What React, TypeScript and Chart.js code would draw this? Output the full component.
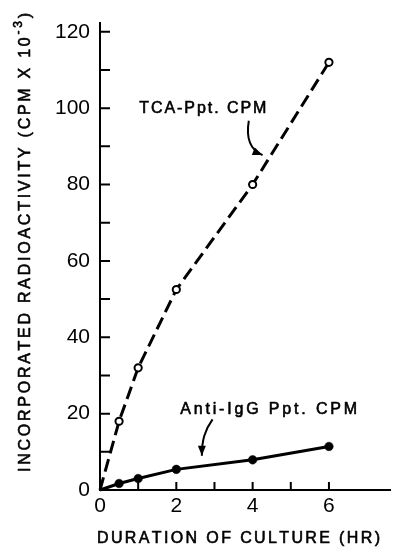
import React, { useEffect, useRef } from "react";
import { Chart, registerables } from "chart.js";

Chart.register(...registerables);

// ---- data ----
const hours = [0, 0.5, 1, 2, 4, 6];
const tcaPptCpm = [0, 18, 32, 52.5, 80, 112];
const antiIgGPptCpm = [0, 1.7, 3, 5.4, 7.9, 11.4];

const yTickValues = [0, 10, 20, 30, 40, 50, 60, 70, 80, 90, 100, 110, 120];
const yLabelValues = [0, 20, 40, 60, 80, 100, 120];
const xTickValues = [0, 1, 2, 3, 4, 5, 6];
const xLabelValues = [0, 2, 4, 6];

const xAxisTitle = "DURATION OF CULTURE (HR)";
const yAxisTitleMain = "INCORPORATED RADIOACTIVITY (CPM X 10";
const yAxisTitleSup = "-3";
const yAxisTitleEnd = ")";
const tcaLabel = "TCA-Ppt. CPM";
const antiLabel = "Anti-IgG Ppt. CPM";

const FONT = "'Liberation Sans', Arimo, Arial, sans-serif";

type Seg = { text: string; size: number; dy: number };

function drawSpaced(ctx: CanvasRenderingContext2D, segs: Seg[], x0: number, width: number, baseline: number) {
  let natural = 0;
  let n = 0;
  segs.forEach((s) => {
    ctx.font = `${s.size}px ${FONT}`;
    for (const ch of s.text) {
      natural += ctx.measureText(ch).width;
      n++;
    }
  });
  const gap = n > 1 ? (width - natural) / (n - 1) : 0;
  let x = x0;
  ctx.lineWidth = 0.6;
  ctx.lineJoin = "round";
  segs.forEach((s) => {
    ctx.font = `${s.size}px ${FONT}`;
    for (const ch of s.text) {
      ctx.fillText(ch, x, baseline + s.dy);
      ctx.strokeText(ch, x, baseline + s.dy);
      x += ctx.measureText(ch).width + gap;
    }
  });
}

function arrow(ctx: CanvasRenderingContext2D, p: number[][]) {
  ctx.beginPath();
  ctx.moveTo(p[0][0], p[0][1]);
  ctx.bezierCurveTo(p[1][0], p[1][1], p[2][0], p[2][1], p[3][0], p[3][1]);
  ctx.lineWidth = 2;
  ctx.stroke();
  const ang = Math.atan2(p[3][1] - p[2][1], p[3][0] - p[2][0]);
  const L = 10, W = 4;
  const ex = p[3][0], ey = p[3][1];
  ctx.beginPath();
  ctx.moveTo(ex, ey);
  ctx.lineTo(ex - L * Math.cos(ang) + W * Math.sin(ang), ey - L * Math.sin(ang) - W * Math.cos(ang));
  ctx.lineTo(ex - L * Math.cos(ang) - W * Math.sin(ang), ey - L * Math.sin(ang) + W * Math.cos(ang));
  ctx.closePath();
  ctx.fill();
}

const decor = {
  id: "decor",
  afterDatasetsDraw(chart: any) {
    const ctx: CanvasRenderingContext2D = chart.ctx;
    const xs = chart.scales.x;
    const ys = chart.scales.y;
    const { left, bottom } = chart.chartArea;
    const P = (x: number, y: number) => [xs.getPixelForValue(x), ys.getPixelForValue(y)];
    ctx.save();
    ctx.strokeStyle = "#000";
    ctx.fillStyle = "#000";
    ctx.lineWidth = 2;
    ctx.beginPath();
    yTickValues.forEach((v) => {
      const p = ys.getPixelForValue(v);
      ctx.moveTo(left, p);
      ctx.lineTo(left + 10, p);
    });
    xTickValues.forEach((v) => {
      if (v === 0) return;
      const p = xs.getPixelForValue(v);
      ctx.moveTo(p, bottom);
      ctx.lineTo(p, bottom - 8);
    });
    ctx.stroke();

    ctx.textAlign = "left";
    ctx.textBaseline = "alphabetic";

    // x title
    drawSpaced(ctx, [{ text: xAxisTitle, size: 16, dy: 0 }], 97, 283, 543);

    // y title
    ctx.save();
    ctx.translate(30, 472);
    ctx.rotate(-Math.PI / 2);
    drawSpaced(
      ctx,
      [
        { text: yAxisTitleMain, size: 16, dy: 0 },
        { text: yAxisTitleSup, size: 12, dy: -8 },
        { text: yAxisTitleEnd, size: 16, dy: 0 },
      ],
      0,
      459,
      0
    );
    ctx.restore();

    // annotations
    const t0 = P(1.03, 98.6);
    const t1 = P(4.36, 98.6);
    drawSpaced(ctx, [{ text: tcaLabel, size: 16, dy: 0 }], t0[0], t1[0] - t0[0], t0[1]);
    arrow(ctx, [P(3.9, 96.7), P(3.82, 92.0), P(3.95, 89.0), P(4.26, 87.7)]);

    const a0 = P(2.1, 19.9);
    const a1 = P(6.74, 19.9);
    drawSpaced(ctx, [{ text: antiLabel, size: 16, dy: 0 }], a0[0], a1[0] - a0[0], a0[1]);
    arrow(ctx, [P(2.95, 18.5), P(2.74, 15.6), P(2.67, 13.0), P(2.67, 9.0)]);

    ctx.restore();
  },
};

export default function App() {
  const ref = useRef<HTMLCanvasElement>(null);
  useEffect(() => {
    const tickFont = { family: FONT, size: 21 };
    const chart = new Chart(ref.current as HTMLCanvasElement, {
      type: "line",
      data: {
        datasets: [
          {
            label: tcaLabel,
            data: hours.map((h, i) => ({ x: h, y: tcaPptCpm[i] })),
            borderColor: "#000",
            borderWidth: 3,
            borderDash: [13, 6],
            pointRadius: hours.map((h) => (h === 0 ? 0 : 3.6)),
            pointBorderWidth: 2,
            pointBackgroundColor: "#fff",
            pointBorderColor: "#000",
            tension: 0,
            clip: false as any,
          },
          {
            label: antiLabel,
            data: hours.map((h, i) => ({ x: h, y: antiIgGPptCpm[i] })),
            borderColor: "#000",
            borderWidth: 3,
            pointRadius: hours.map((h) => (h === 0 ? 0 : 4.3)),
            pointBorderWidth: 0.5,
            pointBackgroundColor: "#000",
            pointBorderColor: "#000",
            tension: 0,
            clip: false as any,
          },
        ],
      },
      options: {
        animation: false,
        responsive: true,
        maintainAspectRatio: false,
        layout: { padding: { top: 10, left: 0, right: 0, bottom: 0 } },
        plugins: { legend: { display: false }, tooltip: { enabled: false }, title: { display: false } },
        scales: {
          x: {
            type: "linear",
            min: 0,
            max: 7.6,
            afterBuildTicks: (s: any) => {
              s.ticks = xTickValues.map((v) => ({ value: v }));
            },
            afterFit: (s: any) => {
              s.height = 57;
            },
            grid: { display: false, drawTicks: false },
            border: { display: true, color: "#000", width: 2 },
            ticks: {
              autoSkip: false,
              maxRotation: 0,
              padding: 4,
              color: "#000",
              font: tickFont,
              callback: (v: any) => (xLabelValues.includes(Number(v)) ? String(v) : ""),
            },
          },
          y: {
            type: "linear",
            min: 0,
            max: 122.4,
            afterBuildTicks: (s: any) => {
              s.ticks = yTickValues.map((v) => ({ value: v }));
            },
            afterFit: (s: any) => {
              s.width = 100;
            },
            grid: { display: false, drawTicks: false },
            border: { display: true, color: "#000", width: 2 },
            ticks: {
              autoSkip: false,
              padding: 10,
              color: "#000",
              font: tickFont,
              callback: (v: any) => (yLabelValues.includes(Number(v)) ? String(v) : ""),
            },
          },
        },
      },
      plugins: [decor],
    });
    return () => chart.destroy();
  }, []);
  return (
    <div style={{ position: "absolute", left: 0, top: 0, width: 396, height: 547, background: "#fff" }}>
      <canvas ref={ref} />
    </div>
  );
}
